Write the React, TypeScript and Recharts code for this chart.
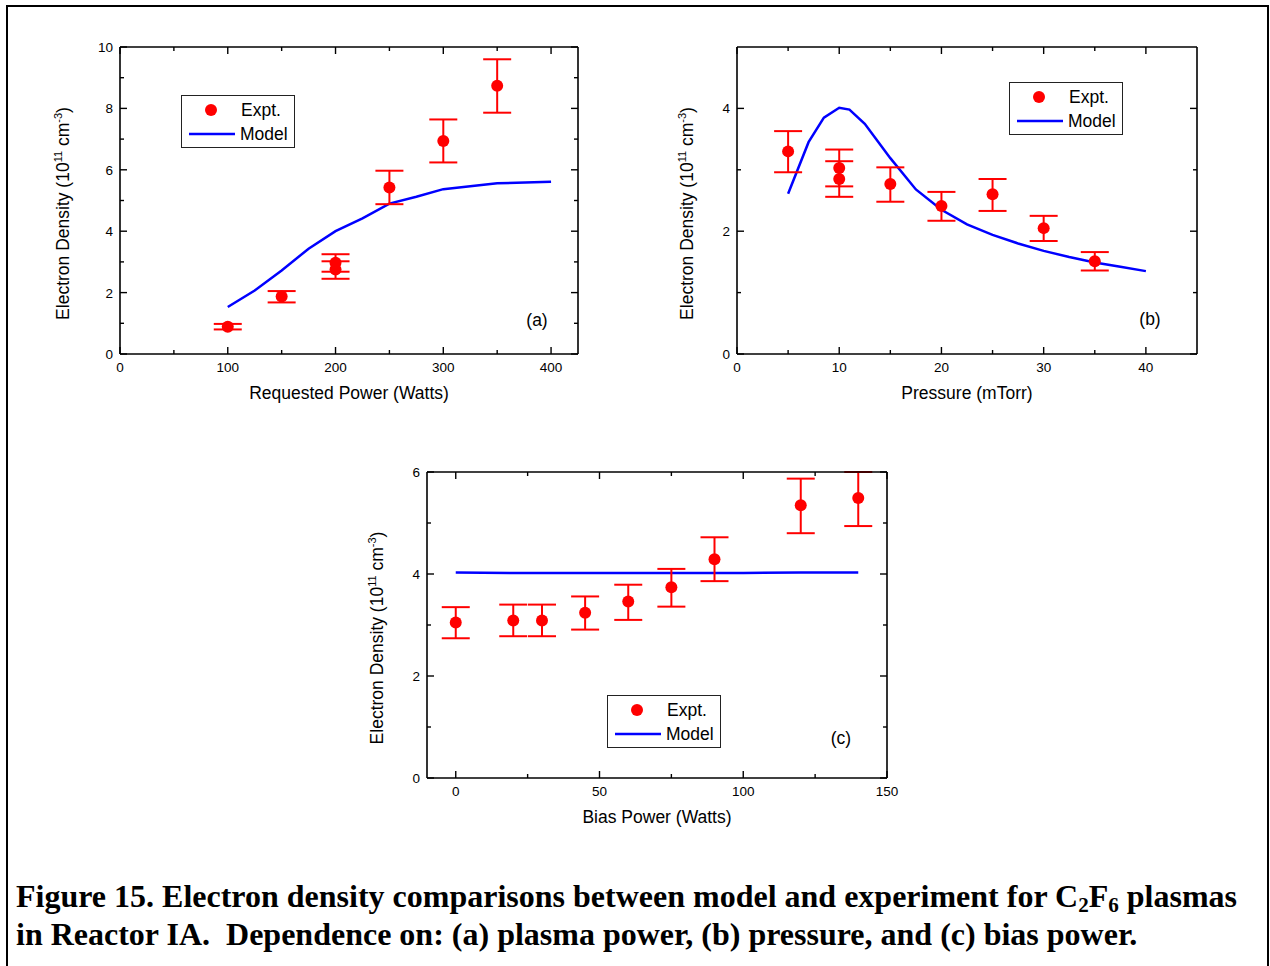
import React from "react";
import { ComposedChart, ErrorBar, Label, Legend, Line, Scatter, XAxis, YAxis } from "recharts";

// (a) requested plasma power
const powerExpt = [100, 150, 200, 200, 250, 300, 350];
const powerExptDensity = [0.89, 1.87, 2.97, 2.75, 5.42, 6.94, 8.74];
const powerExptLow = [0.8, 1.68, 2.68, 2.45, 4.88, 6.24, 7.86];
const powerExptHigh = [0.98, 2.05, 3.25, 3.02, 5.97, 7.64, 9.6];
const powerModel = [100, 125, 150, 175, 200, 225, 250, 275, 300, 350, 400];
const powerModelDensity = [1.53, 2.07, 2.72, 3.43, 4.0, 4.42, 4.9, 5.12, 5.37, 5.56, 5.61];

// (b) pressure
const pressureExpt = [5, 10, 10, 15, 20, 25, 30, 35];
const pressureExptDensity = [3.3, 3.03, 2.85, 2.77, 2.41, 2.6, 2.05, 1.51];
const pressureExptLow = [2.96, 2.73, 2.56, 2.48, 2.17, 2.33, 1.84, 1.36];
const pressureExptHigh = [3.63, 3.33, 3.14, 3.04, 2.64, 2.85, 2.25, 1.66];
const pressureModel = [5, 7, 8.5, 10, 11, 12.5, 15, 17.5, 20, 22.5, 25, 27.5, 30, 32.5, 35, 37.5, 40];
const pressureModelDensity = [2.61, 3.45, 3.85, 4.01, 3.98, 3.75, 3.19, 2.68, 2.35, 2.11, 1.94, 1.8, 1.68, 1.58, 1.49, 1.42, 1.35];

// (c) bias power
const biasExpt = [0, 20, 30, 45, 60, 75, 90, 120, 140];
const biasExptDensity = [3.05, 3.09, 3.09, 3.24, 3.46, 3.74, 4.29, 5.35, 5.49];
const biasExptLow = [2.74, 2.78, 2.78, 2.91, 3.1, 3.36, 3.86, 4.8, 4.94];
const biasExptHigh = [3.35, 3.4, 3.4, 3.56, 3.79, 4.1, 4.72, 5.87, 6.0];
const biasModel = [0, 20, 40, 60, 80, 100, 120, 140];
const biasModelDensity = [4.03, 4.02, 4.02, 4.02, 4.02, 4.02, 4.03, 4.03];

// axis ticks (majors get labels)
const powerTicks = [0, 50, 100, 150, 200, 250, 300, 350, 400];
const powerMajors = [0, 100, 200, 300, 400];
const densityTicksA = [0, 1, 2, 3, 4, 5, 6, 7, 8, 9, 10];
const densityMajorsA = [0, 2, 4, 6, 8, 10];
const pressureTicks = [0, 5, 10, 15, 20, 25, 30, 35, 40];
const pressureMajors = [0, 10, 20, 30, 40];
const densityTicksB = [0, 1, 2, 3, 4];
const densityMajorsB = [0, 2, 4];
const biasTicks = [0, 25, 50, 75, 100, 125, 150];
const biasMajors = [0, 50, 100, 150];
const densityTicksC = [0, 1, 2, 3, 4, 5, 6];
const densityMajorsC = [0, 2, 4, 6];

const SANS = "'Liberation Sans', Arial, Helvetica, sans-serif";
const SERIF = "'Liberation Serif', 'Times New Roman', Times, serif";
const RED = "#ff0000";
const BLUE = "#0000ff";
const TICK_FONT = 13.5;
const TITLE_FONT = 17.5;

type Side = "bottom" | "top" | "left" | "right";

function axisTick(side: Side, majors: number[], labels: boolean) {
  return (props: any) => {
    const { x, y, payload } = props;
    const v = payload.value;
    const major = majors.includes(v);
    const len = major ? 7 : 4;
    let l = { x1: x, y1: y, x2: x, y2: y };
    if (side === "bottom") l.y2 = y - len;
    if (side === "top") l.y2 = y + len;
    if (side === "left") l.x2 = x + len;
    if (side === "right") l.x2 = x - len;
    return (
      <g>
        <line {...l} stroke="#000" strokeWidth={1.4} />
        {labels && major && side === "bottom" && (
          <text x={x} y={y + 17.5} textAnchor="middle" fontSize={TICK_FONT} fontFamily={SANS} fill="#000">
            {v}
          </text>
        )}
        {labels && major && side === "left" && (
          <text x={x - 7} y={y + 5} textAnchor="end" fontSize={TICK_FONT} fontFamily={SANS} fill="#000">
            {v}
          </text>
        )}
      </g>
    );
  };
}

const LegendBox = () => (
  <div
    style={{
      border: "1.5px solid #222",
      background: "#fff",
      padding: "2px 6px 1px 6px",
      fontFamily: SANS,
      fontSize: TITLE_FONT,
      lineHeight: "24px",
      color: "#000",
      width: 100,
    }}
  >
    <div style={{ display: "flex", alignItems: "center" }}>
      <svg width={48} height={14}>
        <circle cx={23} cy={7} r={6} fill={RED} />
      </svg>
      <span style={{ marginLeft: 5 }}>Expt.</span>
    </div>
    <div style={{ display: "flex", alignItems: "center" }}>
      <svg width={48} height={14}>
        <line x1={1} x2={47} y1={7} y2={7} stroke={BLUE} strokeWidth={2.5} />
      </svg>
      <span style={{ marginLeft: 4 }}>Model</span>
    </div>
  </div>
);

type PanelProps = {
  left: number;
  top: number;
  width: number;
  height: number;
  margin: { top: number; right: number; bottom: number; left: number };
  ex: number[];
  ey: number[];
  elo: number[];
  ehi: number[];
  mx: number[];
  my: number[];
  xDomain: [number, number];
  xTicks: number[];
  xMajors: number[];
  yDomain: [number, number];
  yTicks: number[];
  yMajors: number[];
  xTitle: string;
  yTitleGap: number;
  tag: string;
  tagX: number;
  tagY: number;
  legendX: number;
  legendY: number;
};

function Panel(p: PanelProps) {
  const expt = p.ex.map((x, i) => ({ x, y: p.ey[i], err: [p.ey[i] - p.elo[i], p.ehi[i] - p.ey[i]] }));
  const model = p.mx.map((x, i) => ({ x, y: p.my[i] }));
  const axisLine = { stroke: "#000", strokeWidth: 1.6 };
  return (
    <div style={{ position: "absolute", left: p.left, top: p.top }}>
      <ComposedChart width={p.width} height={p.height} margin={p.margin}>
        <XAxis
          xAxisId="b"
          dataKey="x"
          type="number"
          domain={p.xDomain}
          ticks={p.xTicks}
          interval={0}
          allowDataOverflow
          tickLine={false}
          tickSize={0}
          tickMargin={0}
          tick={axisTick("bottom", p.xMajors, true)}
          axisLine={axisLine}
          height={50}
        >
          <Label
            content={(lp: any) => {
              const vb = lp.viewBox;
              return (
                <text x={vb.x + vb.width / 2} y={vb.y + 45} textAnchor="middle" fontSize={TITLE_FONT} fontFamily={SANS} fill="#000">
                  {p.xTitle}
                </text>
              );
            }}
          />
        </XAxis>
        <XAxis
          xAxisId="t"
          orientation="top"
          dataKey="x"
          type="number"
          domain={p.xDomain}
          ticks={p.xTicks}
          interval={0}
          allowDataOverflow
          tickLine={false}
          tickSize={0}
          tickMargin={0}
          tick={axisTick("top", p.xMajors, false)}
          axisLine={axisLine}
          height={1}
        />
        <YAxis
          yAxisId="l"
          dataKey="y"
          type="number"
          domain={p.yDomain}
          ticks={p.yTicks}
          interval={0}
          allowDataOverflow
          tickLine={false}
          tickSize={0}
          tickMargin={0}
          tick={axisTick("left", p.yMajors, true)}
          axisLine={axisLine}
          width={60}
        >
          <Label
            content={(lp: any) => {
              const vb = lp.viewBox;
              const bx = vb.x + vb.width - p.yTitleGap;
              const cy = vb.y + vb.height / 2 + 13;
              return (
                <text
                  x={bx}
                  y={cy}
                  transform={`rotate(-90 ${bx} ${cy})`}
                  textAnchor="middle"
                  fontSize={TITLE_FONT}
                  fontFamily={SANS}
                  fill="#000"
                >
                  Electron Density (10
                  <tspan dy={-7} fontSize={11}>11</tspan>
                  <tspan dy={7}> cm</tspan>
                  <tspan dy={-7} fontSize={11}>-3</tspan>
                  <tspan dy={7}>)</tspan>
                </text>
              );
            }}
          />
        </YAxis>
        <YAxis
          yAxisId="r"
          orientation="right"
          dataKey="y"
          type="number"
          domain={p.yDomain}
          ticks={p.yTicks}
          interval={0}
          allowDataOverflow
          tickLine={false}
          tickSize={0}
          tickMargin={0}
          tick={axisTick("right", p.yMajors, false)}
          axisLine={axisLine}
          width={1}
        />
        <Legend
          layout="vertical"
          align="center"
          verticalAlign="middle"
          content={() => <LegendBox />}
          wrapperStyle={{ left: p.legendX, top: p.legendY, width: "auto", height: "auto" }}
        />
        {/* invisible copy so the top and right frame axes get drawn */}
        <Line
          xAxisId="t"
          yAxisId="r"
          data={model}
          dataKey="y"
          stroke="none"
          dot={false}
          activeDot={false}
          legendType="none"
          isAnimationActive={false}
        />
        <Line
          xAxisId="b"
          yAxisId="l"
          data={model}
          dataKey="y"
          type="linear"
          stroke={BLUE}
          strokeWidth={2.5}
          dot={false}
          activeDot={false}
          isAnimationActive={false}
        />
        <Scatter
          xAxisId="b"
          yAxisId="l"
          data={expt}
          dataKey="y"
          fill={RED}
          isAnimationActive={false}
          shape={(sp: any) => <circle cx={sp.cx} cy={sp.cy} r={6} fill={RED} />}
        >
          <ErrorBar dataKey="err" direction="y" width={14} stroke={RED} strokeWidth={2} isAnimationActive={false} />
        </Scatter>
      </ComposedChart>
      <div
        style={{
          position: "absolute",
          left: p.tagX,
          top: p.tagY,
          transform: "translate(-50%, -50%)",
          fontFamily: SANS,
          fontSize: TITLE_FONT,
          color: "#000",
        }}
      >
        {p.tag}
      </div>
    </div>
  );
}

const captionLine: React.CSSProperties = {
  fontFamily: SERIF,
  fontWeight: "bold",
  fontSize: 32,
  lineHeight: "38px",
  height: 38,
  color: "#000",
  whiteSpace: "pre",
};
const subStyle: React.CSSProperties = { fontSize: "0.66em", verticalAlign: "-0.22em", lineHeight: 0 };

export default function App() {
  return (
    <div
      style={{
        position: "absolute",
        left: 0,
        top: 0,
        width: 1270,
        height: 966,
        overflow: "hidden",
        background: "#fff",
      }}
    >
      <div
        style={{
          position: "absolute",
          left: 6,
          top: 5,
          width: 1259,
          height: 1000,
          border: "2px solid #000",
        }}
      />
      <Panel
        left={0}
        top={0}
        width={620}
        height={420}
        margin={{ top: 46, right: 41, bottom: 16, left: 60 }}
        ex={powerExpt}
        ey={powerExptDensity}
        elo={powerExptLow}
        ehi={powerExptHigh}
        mx={powerModel}
        my={powerModelDensity}
        xDomain={[0, 425]}
        xTicks={powerTicks}
        xMajors={powerMajors}
        yDomain={[0, 10]}
        yTicks={densityTicksA}
        yMajors={densityMajorsA}
        xTitle="Requested Power (Watts)"
        yTitleGap={51}
        tag="(a)"
        tagX={537}
        tagY={320}
        legendX={181}
        legendY={95}
      />
      <Panel
        left={620}
        top={0}
        width={620}
        height={420}
        margin={{ top: 46, right: 42, bottom: 16, left: 57 }}
        ex={pressureExpt}
        ey={pressureExptDensity}
        elo={pressureExptLow}
        ehi={pressureExptHigh}
        mx={pressureModel}
        my={pressureModelDensity}
        xDomain={[0, 45]}
        xTicks={pressureTicks}
        xMajors={pressureMajors}
        yDomain={[0, 5]}
        yTicks={densityTicksB}
        yMajors={densityMajorsB}
        xTitle="Pressure (mTorr)"
        yTitleGap={44}
        tag="(b)"
        tagX={530}
        tagY={319}
        legendX={389}
        legendY={82}
      />
      <Panel
        left={300}
        top={420}
        width={640}
        height={420}
        margin={{ top: 51, right: 52, bottom: 12, left: 67 }}
        ex={biasExpt}
        ey={biasExptDensity}
        elo={biasExptLow}
        ehi={biasExptHigh}
        mx={biasModel}
        my={biasModelDensity}
        xDomain={[-10, 150]}
        xTicks={biasTicks}
        xMajors={biasMajors}
        yDomain={[0, 6]}
        yTicks={densityTicksC}
        yMajors={densityMajorsC}
        xTitle="Bias Power (Watts)"
        yTitleGap={44}
        tag="(c)"
        tagX={541}
        tagY={318}
        legendX={307}
        legendY={275}
      />
      <div style={{ position: "absolute", left: 16, top: 877 }}>
        <div style={captionLine}>
          {"Figure 15. Electron density comparisons between model and experiment for C"}
          <sub style={subStyle}>2</sub>
          {"F"}
          <sub style={subStyle}>6</sub>
          {" plasmas"}
        </div>
        <div style={captionLine}>
          {"in Reactor IA.  Dependence on: (a) plasma power, (b) pressure, and (c) bias power."}
        </div>
      </div>
    </div>
  );
}
